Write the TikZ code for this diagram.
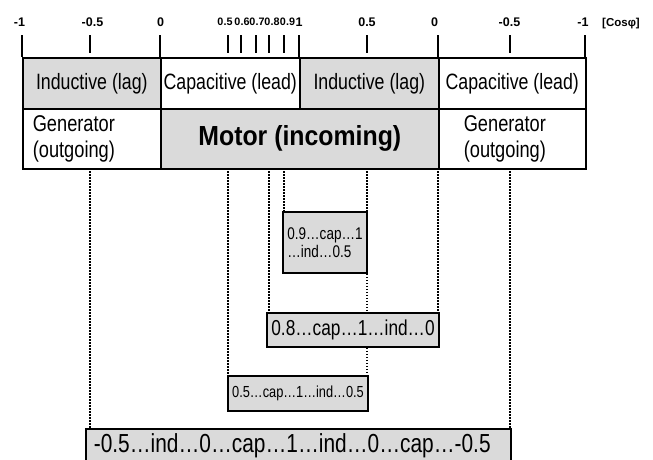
\documentclass[tikz,border=0pt]{standalone}
\usepackage{fontspec}
\setmainfont{Liberation Sans}
\newfontfamily\narrowsf[FakeStretch=0.8]{Liberation Sans}
\newfontfamily\motorsf[FakeStretch=0.9]{Liberation Sans}

\definecolor{cellgray}{RGB}{218,218,218}

\tikzset{
  cell/.style={draw, line width=1.6pt, inner sep=0pt, anchor=north west,
    font=\narrowsf\fontsize{22.2}{24}\selectfont},
  rangebox/.style={draw, line width=1.6pt, fill=cellgray, inner sep=0pt},
  guide/.style={line width=1.6pt, dash pattern=on 1.6pt off 1.4pt},
  tickmark/.style={line width=1.8pt},
  ticklabel/.style={anchor=base, inner sep=0pt, font=\bfseries\fontsize{12.5}{14}\selectfont},
  smalllabel/.style={anchor=base, inner sep=0pt, font=\bfseries\fontsize{10.8}{12}\selectfont},
}

\begin{document}
\begin{tikzpicture}[x=1pt, y=-1pt]
\useasboundingbox (0,0) rectangle (653,459);

% scale
\foreach \x in {90,228,241,256,269,284,367,510}
  \draw[tickmark] (\x,35) -- (\x,53);
\foreach \x in {22,160,299,438,585}
  \draw[tickmark] (\x,35) -- (\x,57);
\foreach \x/\t [count=\i] in {19.5/-1, 92.5/-0.5, 160.5/0, 367/0.5, 434.5/0, 509.5/-0.5, 583/-1}
  \node[ticklabel] (lab\i) at (\x,26.7) {\t};
\foreach \x/\t [count=\i] in {225/0.5, 242/0.6, 257/0.7, 272/0.8, 287.5/0.9}
  \node[smalllabel] (slab\i) at (\x,25) {\t};
\node[ticklabel] (one) at (299,26.7) {1};
\node[anchor=base west, inner sep=0pt, font=\bfseries\fontsize{11.5}{12}\selectfont] (unit) at (602,26.7) {[Cosφ]};

% table
\node[cell, fill=cellgray, minimum width=138pt, minimum height=51pt] (ind1) at (22,57) {Inductive (lag)};
\node[cell, fill=white, minimum width=139pt, minimum height=51pt] (cap1) at (160,57) {Capacitive (lead)};
\node[cell, fill=cellgray, minimum width=139pt, minimum height=51pt] (ind2) at (299,57) {Inductive (lag)};
\node[cell, fill=white, minimum width=147pt, minimum height=51pt] (cap2) at (438,57) {Capacitive (lead)};
\node[cell, fill=white, minimum height=60pt, inner xsep=10pt, text width=118pt, align=left,
      font=\narrowsf\fontsize{22.8}{26}\selectfont] (gen1) at (22,108) {Generator\\(outgoing)};
\node[cell, fill=cellgray, minimum width=278pt, minimum height=60pt,
      font=\motorsf\bfseries\fontsize{27.6}{30}\selectfont] (motor) at (160,108) {Motor (incoming)};
\node[cell, fill=white, minimum height=60pt, inner xsep=25pt, text width=97pt, align=left,
      font=\narrowsf\fontsize{22.8}{26}\selectfont] (gen2) at (438,108) {Generator\\(outgoing)};

% ranges
\coordinate (g1) at (90,168);
\coordinate (g2) at (228,168);
\coordinate (g3) at (269,168);
\coordinate (g4) at (284,168);
\coordinate (g5) at (367,168);
\coordinate (g6) at (438,168);
\coordinate (g7) at (510,168);

\node[rangebox, minimum width=84pt, minimum height=61pt, align=left,
      font=\narrowsf\fontsize{16.9}{17.5}\selectfont] (r09) at (325,242.5) {0.9…cap…1\\…ind…0.5};
\node[rangebox, minimum width=172pt, minimum height=34pt,
      font=\narrowsf\fontsize{21.6}{24}\selectfont] (r08) at (353,330) {0.8…cap…1…ind…0};
\node[rangebox, minimum width=140pt, minimum height=35pt,
      font=\narrowsf\fontsize{16}{18}\selectfont] (r05) at (298,393.5) {0.5…cap…1…ind…0.5};
\node[rangebox, anchor=north west, minimum height=34pt, inner xsep=8pt, text width=409pt, align=left,
      font=\narrowsf\fontsize{26.1}{28}\selectfont] (rall) at (85,428) {-0.5…ind…0…cap…1…ind…0…cap…-0.5};

\draw[guide] (g1) -- (g1 |- rall.north);
\draw[guide] (g2) -- (g2 |- r05.north);
\draw[guide] (g3) -- (g3 |- r08.north);
\draw[guide] (g4) -- (g4 |- r09.north);
\draw[guide] (g5) -- (g5 |- r09.north) (g5 |- r09.south) -- (g5 |- r08.north) (g5 |- r08.south) -- (g5 |- r05.north);
\draw[guide] (g6) -- (g6 |- r08.north);
\draw[guide] (g7) -- (g7 |- rall.north);
\end{tikzpicture}
\end{document}
